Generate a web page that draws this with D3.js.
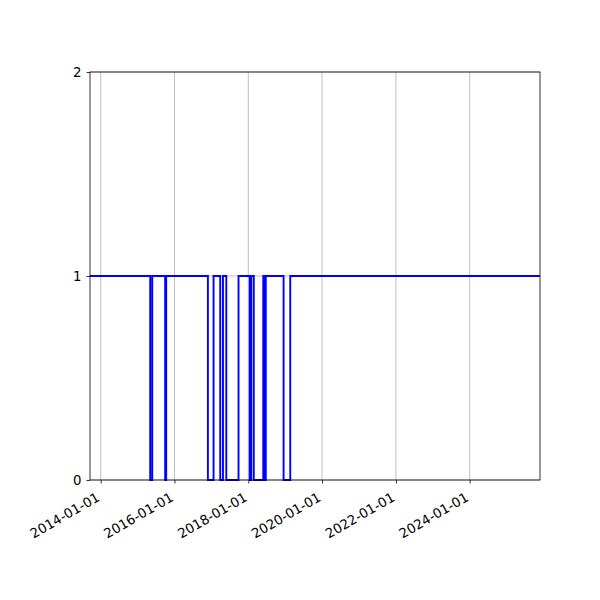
<!DOCTYPE html>
<html lang="en">
<head>
  <meta charset="UTF-8">
  <title>Step chart</title>
  <script src="https://cdn.jsdelivr.net/npm/d3@7"></script>
  <style>
    body { margin: 0; background: #fff; }
    .tick text { font-family: "DejaVu Sans", sans-serif; font-size: 13.3px; fill: #000; }
    .grid line { stroke: #b0b0b0; stroke-width: 0.8; }
  </style>
</head>
<body>
  <div id="chart"></div>
  <script>
    // moments where the state flips, and the state from that moment on
    const changeDates = [
      "2013-09-17", "2015-05-06", "2015-05-26", "2015-10-01", "2015-10-11",
      "2016-11-27", "2017-01-22", "2017-03-29", "2017-04-25", "2017-05-28",
      "2017-09-26", "2018-01-15", "2018-01-30", "2018-02-24", "2018-05-29",
      "2018-06-08", "2018-06-23", "2018-12-16", "2019-02-20", "2025-11-27"
    ];
    const states = [1, 0, 1, 0, 1, 0, 1, 0, 1, 0, 1, 0, 1, 0, 1, 0, 1, 0, 1, 1];
    const xTickDates = ["2014-01-01", "2016-01-01", "2018-01-01", "2020-01-01", "2022-01-01", "2024-01-01"];
    const yTicks = [0, 1, 2];

    const W = 600, H = 600;
    const margin = { left: 90, right: 60, top: 72, bottom: 120 };
    const parse = d3.utcParse("%Y-%m-%d");
    const fmt = d3.utcFormat("%Y-%m-%d");

    const data = changeDates.map((d, i) => ({ date: parse(d), value: states[i] }));

    const svg = d3.select("#chart").append("svg")
      .attr("width", W)
      .attr("height", H)
      .style("background", "#fff");

    const x = d3.scaleUtc()
      .domain(d3.extent(data, d => d.date))
      .range([margin.left, W - margin.right]);
    const y = d3.scaleLinear()
      .domain([0, 2])
      .range([H - margin.bottom, margin.top]);

    // grid
    svg.append("g").attr("class", "grid")
      .selectAll("line")
      .data(xTickDates.map(parse))
      .enter().append("line")
        .attr("x1", d => x(d)).attr("x2", d => x(d))
        .attr("y1", margin.top).attr("y2", H - margin.bottom);
    svg.append("g").attr("class", "grid")
      .selectAll("line")
      .data(yTicks)
      .enter().append("line")
        .attr("x1", margin.left).attr("x2", W - margin.right)
        .attr("y1", d => y(d)).attr("y2", d => y(d));

    // step line
    const line = d3.line()
      .x(d => x(d.date))
      .y(d => y(d.value))
      .curve(d3.curveStepAfter);
    svg.append("path")
      .datum(data)
      .attr("d", line)
      .attr("fill", "none")
      .attr("stroke", "#0000ff")
      .attr("stroke-width", 1.9);

    // frame
    svg.append("rect")
      .attr("x", margin.left).attr("y", margin.top)
      .attr("width", W - margin.left - margin.right)
      .attr("height", H - margin.top - margin.bottom)
      .attr("fill", "none")
      .attr("stroke", "#000")
      .attr("stroke-width", 0.8);

    // axes
    const xAxis = svg.append("g")
      .attr("transform", `translate(0,${H - margin.bottom})`)
      .call(d3.axisBottom(x).tickValues(xTickDates.map(parse)).tickFormat(fmt).tickSize(3.5).tickPadding(3));
    xAxis.select(".domain").remove();
    xAxis.selectAll(".tick line").attr("stroke-width", 0.8);
    xAxis.selectAll(".tick text")
      .attr("text-anchor", "end")
      .attr("y", 0)
      .attr("dy", "0.35em")
      .attr("transform", "translate(-3,16) rotate(-30)");

    const yAxis = svg.append("g")
      .attr("transform", `translate(${margin.left},0)`)
      .call(d3.axisLeft(y).tickValues(yTicks).tickFormat(d3.format("d")).tickSize(3.5).tickPadding(5));
    yAxis.select(".domain").remove();
    yAxis.selectAll(".tick line").attr("stroke-width", 0.8);
  </script>
</body>
</html>
